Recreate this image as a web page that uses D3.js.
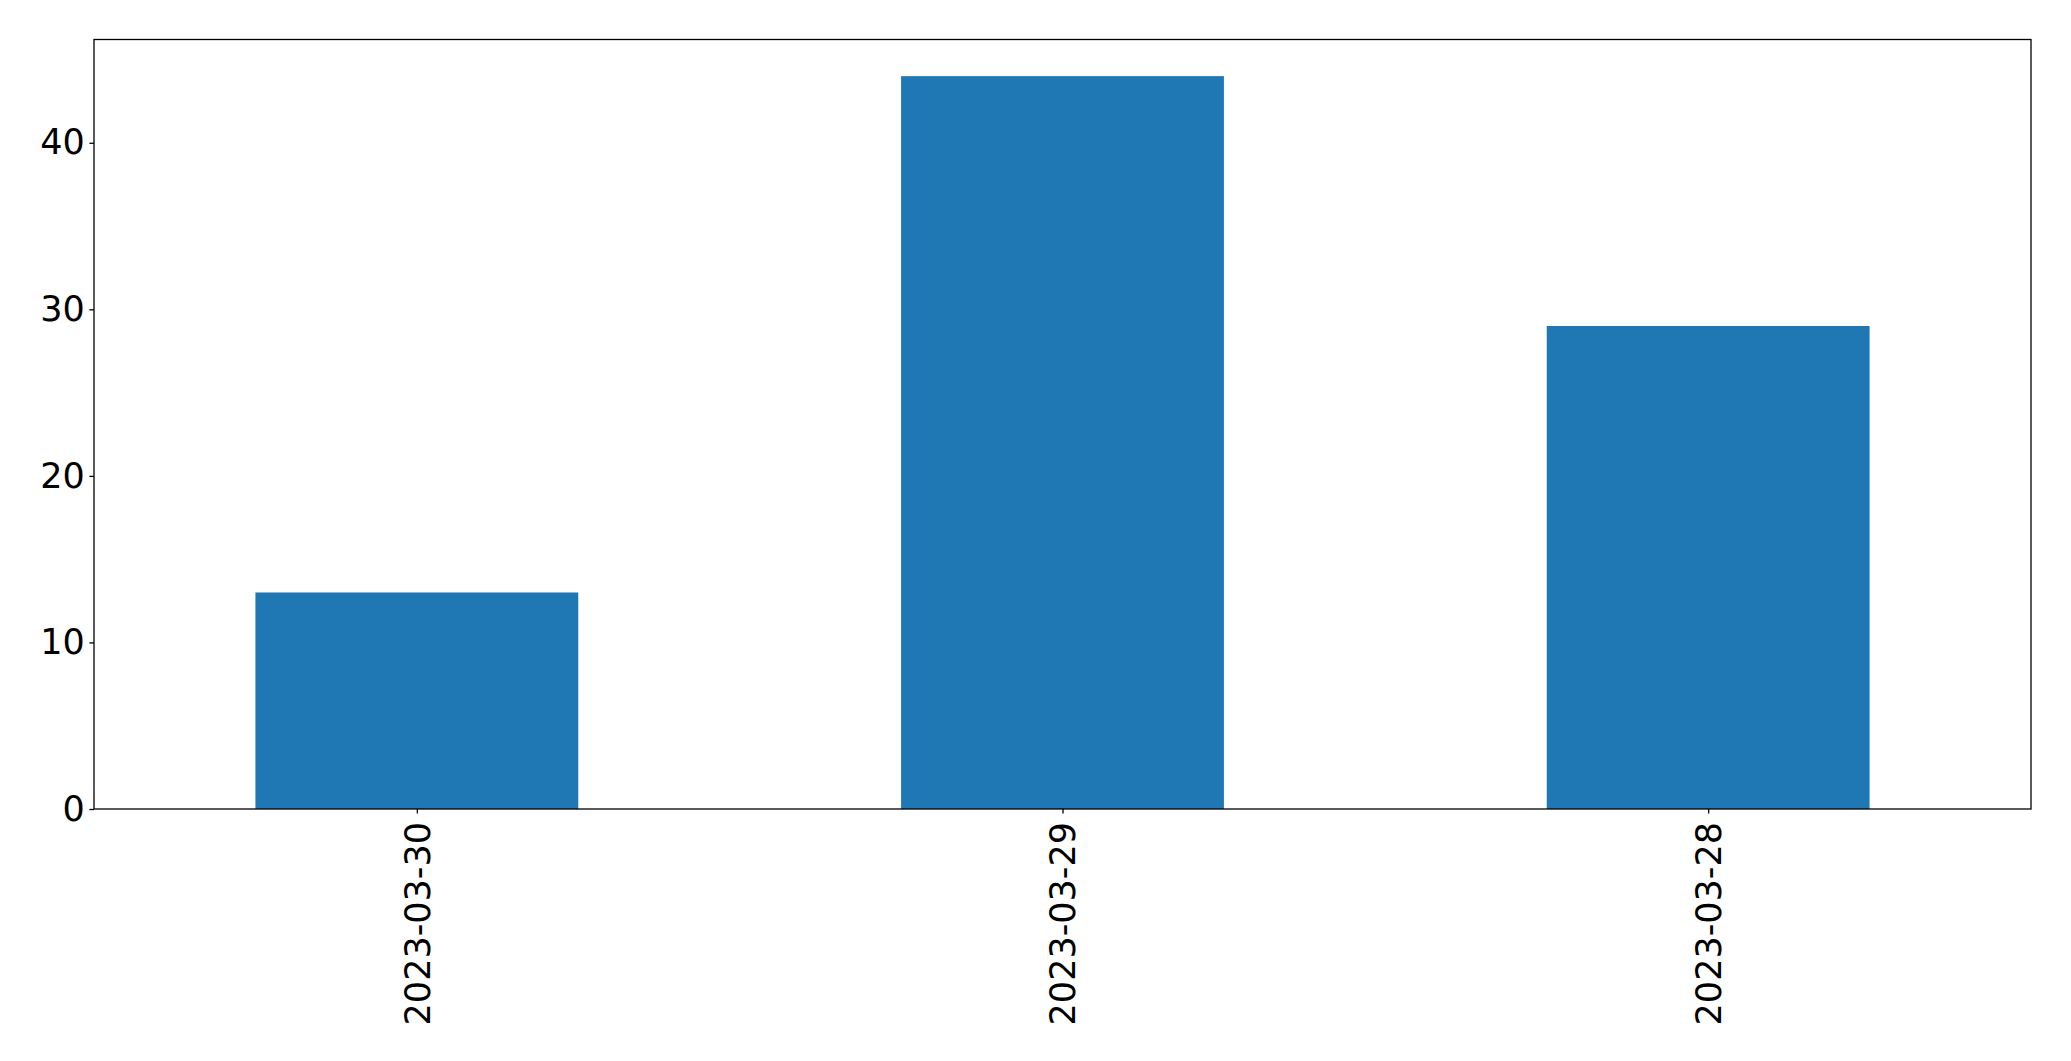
<!DOCTYPE html>
<html><head><meta charset="utf-8">
<script src="https://cdn.jsdelivr.net/npm/d3@7"></script>
<style>body{margin:0;background:#fff}svg{display:block}</style>
</head><body>
<script>
const categories = ["2023-03-30", "2023-03-29", "2023-03-28"];
const values = [13, 44, 29];
const yTicks = [0, 10, 20, 30, 40];

const W = 2071, H = 1061;
const m = {left: 94, right: 2031, top: 39.5, bottom: 809};
const svg = d3.select("body").append("svg").attr("width", W).attr("height", H);

const x = d3.scaleLinear().domain([-0.5, categories.length - 0.5]).range([m.left, m.right]);
const y = d3.scaleLinear().domain([0, 46.2]).range([m.bottom, m.top]);

svg.selectAll("rect.bar").data(values).enter().append("rect")
  .attr("class", "bar")
  .attr("x", (d, i) => x(i - 0.25))
  .attr("width", (d, i) => x(i + 0.25) - x(i - 0.25))
  .attr("y", d => y(d))
  .attr("height", d => y(0) - y(d))
  .attr("fill", "#1f77b4");

const font = "DejaVu Sans";
const fs = 35;
const yAxis = d3.axisLeft(y).tickValues(yTicks).tickSize(4.6).tickPadding(4.6).tickFormat(d3.format("d"));
const gy = svg.append("g").attr("transform", `translate(${m.left},0)`).call(yAxis);
gy.select(".domain").remove();
gy.selectAll("line").attr("stroke", "#000").attr("stroke-width", 1.3);
gy.selectAll("text").attr("font-family", font).attr("font-size", fs).attr("fill", "#000");

const xAxis = d3.axisBottom(x).tickValues(d3.range(categories.length)).tickSize(4.6).tickFormat(i => categories[i]);
const gx = svg.append("g").attr("transform", `translate(0,${m.bottom})`).call(xAxis);
gx.select(".domain").remove();
gx.selectAll("line").attr("stroke", "#000").attr("stroke-width", 1.3);
gx.selectAll("text")
  .attr("font-family", font).attr("font-size", fs).attr("fill", "#000")
  .attr("transform", "translate(0,13) rotate(-90)")
  .attr("x", 0).attr("y", 0).attr("dy", "0.35em")
  .attr("text-anchor", "end");

svg.append("rect").attr("x", m.left).attr("y", m.top)
  .attr("width", m.right - m.left).attr("height", m.bottom - m.top)
  .attr("fill", "none").attr("stroke", "#000").attr("stroke-width", 1.3);
</script>
</body></html>
